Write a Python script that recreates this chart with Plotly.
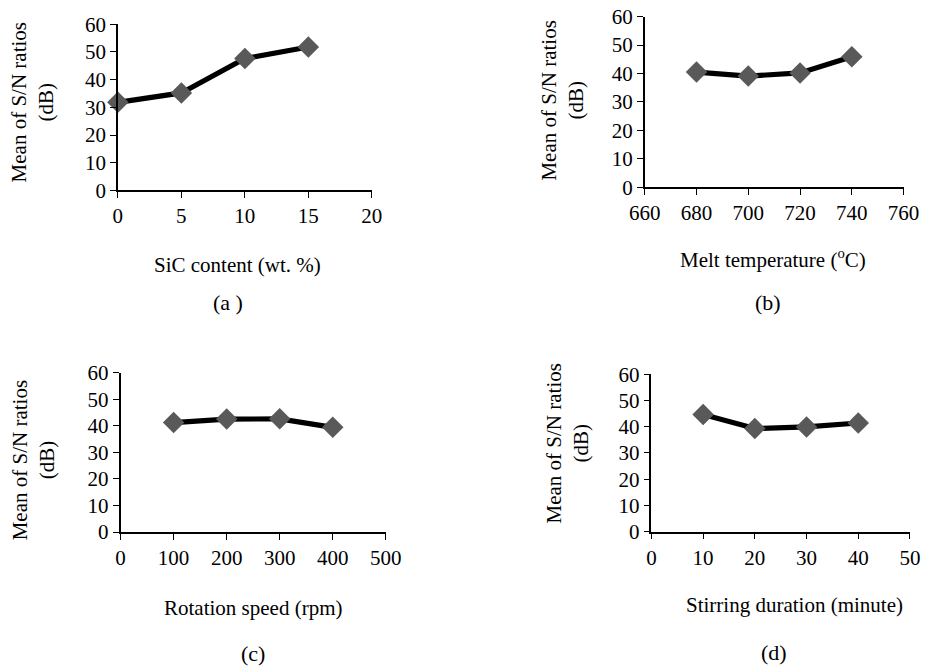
import plotly.graph_objects as go

# Data
sic_content = [0, 5, 10, 15]
sn_sic = [31.8, 35.2, 47.6, 51.8]

melt_temp = [680, 700, 720, 740]
sn_temp = [40.5, 39.1, 40.2, 45.9]

rot_speed = [100, 200, 300, 400]
sn_speed = [41.2, 42.5, 42.6, 39.4]

stir_dur = [10, 20, 30, 40]
sn_stir = [44.6, 39.3, 39.9, 41.4]

x_titles = ["SiC content (wt. %)", "Melt temperature (<sup>o</sup>C)",
            "Rotation speed (rpm)", "Stirring duration (minute)"]
panel_labels = ["(a )", "(b)", "(c)", "(d)"]
x_ranges = [[0, 20], [660, 760], [0, 500], [0, 50]]
x_dticks = [5, 20, 100, 10]

W, H = 926, 668
FONT = "Liberation Serif, Times New Roman, serif"
S = 0.967  # observed capture shrink about the page centre
K = 1 / S


def px(x):
    return min(1.0, max(0.0, (W / 2 + (x - W / 2) * K) / W))


def py(y):
    return min(1.0, max(0.0, 1 - (H / 2 + (y - H / 2) * K) / H))


# target pixel boxes in the picture: (x0, x1, ytop, ybottom)
boxes = [
    (117.3, 371.7, 23.3, 190.0),
    (645.0, 904.3, 15.7, 186.7),
    (120.0, 385.7, 372.7, 532.7),
    (651.7, 913.3, 374.3, 532.3),
]
ytitle_pos = [(32, 102), (563, 100), (33, 461), (568, 444)]
xtitle_pos = [(237, 265), (773, 258), (253, 609), (795, 606)]
label_pos = [(228, 302), (768, 302), (253, 654), (775, 653)]

fig = go.Figure()
series = [(sic_content, sn_sic), (melt_temp, sn_temp), (rot_speed, sn_speed), (stir_dur, sn_stir)]

for i, (xs, ys) in enumerate(series):
    n = "" if i == 0 else str(i + 1)
    fig.add_trace(go.Scatter(
        x=xs, y=ys, mode="lines+markers",
        line=dict(color="black", width=5 * K),
        marker=dict(symbol="diamond", size=16 * K, color="#595959"),
        xaxis="x" + n, yaxis="y" + n, cliponaxis=False, showlegend=False,
        hoverinfo="skip"))
    x0, x1, yt, yb = boxes[i]
    fig.layout["xaxis" + n] = dict(
        domain=[px(x0), px(x1)], range=x_ranges[i], dtick=x_dticks[i], tick0=x_ranges[i][0],
        anchor="y" + n, showline=True, linecolor="black", linewidth=1.5,
        ticks="outside", ticklen=6, tickcolor="black", showgrid=False, zeroline=False,
        tickfont=dict(family=FONT, size=21, color="black"), fixedrange=True)
    fig.layout["yaxis" + n] = dict(
        domain=[py(yb), py(yt)], range=[0, 60], dtick=10,
        anchor="x" + n, showline=True, linecolor="black", linewidth=1.5,
        ticks="outside", ticklen=6, tickcolor="black", showgrid=False, zeroline=False,
        tickfont=dict(family=FONT, size=21, color="black"), fixedrange=True)

annotations = []
for i in range(4):
    tx, ty = ytitle_pos[i]
    annotations.append(dict(x=px(tx), y=py(ty), xref="paper", yref="paper",
                            text="Mean of S/N ratios<br>(dB)", textangle=-90, showarrow=False,
                            font=dict(family=FONT, size=21, color="black"),
                            xanchor="center", yanchor="middle"))
    tx, ty = xtitle_pos[i]
    annotations.append(dict(x=px(tx), y=py(ty), xref="paper", yref="paper",
                            text=x_titles[i], showarrow=False,
                            font=dict(family=FONT, size=21, color="black"),
                            xanchor="center", yanchor="middle"))
    tx, ty = label_pos[i]
    annotations.append(dict(x=px(tx), y=py(ty), xref="paper", yref="paper",
                            text=panel_labels[i], showarrow=False,
                            font=dict(family=FONT, size=22, color="black"),
                            xanchor="center", yanchor="middle"))

fig.update_layout(width=W, height=H, margin=dict(l=0, r=0, t=0, b=0),
                  paper_bgcolor="white", plot_bgcolor="white",
                  annotations=annotations, hovermode=False)

fig.write_html("out.html", config={"displayModeBar": False},
               post_script="document.body.style.margin='0';")
